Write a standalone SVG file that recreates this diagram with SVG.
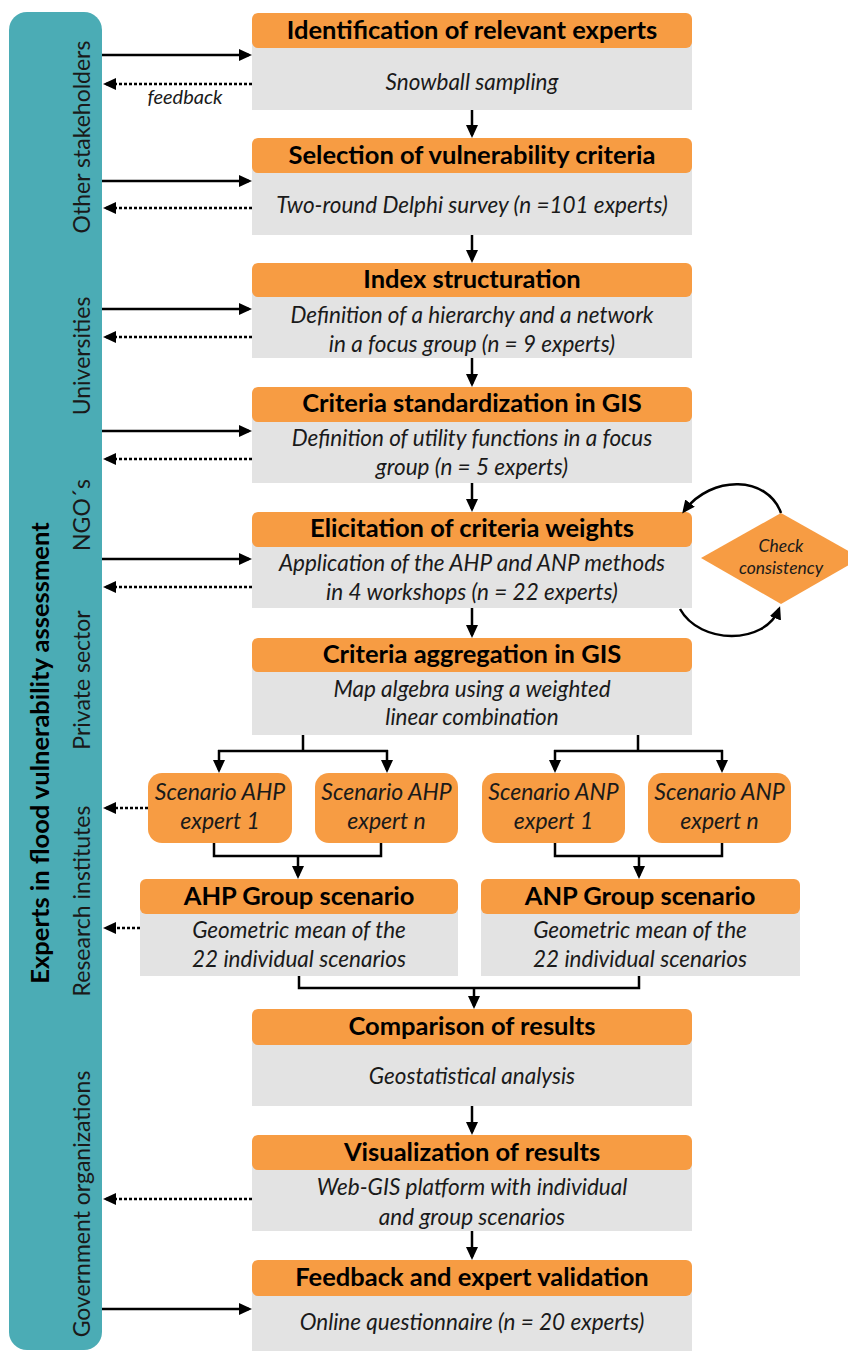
<svg xmlns="http://www.w3.org/2000/svg" width="848" height="1351" viewBox="0 0 848 1351">
<style>
.hd{fill:#F79C43}
.bd{fill:#E3E3E3}
.t{font-family:Lato,"Liberation Sans",sans-serif;font-weight:bold;font-size:25.5px;fill:#000;text-anchor:middle}
.b{font-family:Lato,"Liberation Sans",sans-serif;font-style:italic;font-size:22.5px;fill:#1a1a1a;text-anchor:middle}
.sc{font-family:Lato,"Liberation Sans",sans-serif;font-style:italic;font-size:23px;fill:#1a1a1a;text-anchor:middle}
.ck{font-family:Lato,"Liberation Sans",sans-serif;font-style:italic;font-size:17.5px;fill:#1a1a1a;text-anchor:middle}
.fb{font-family:Lato,"Liberation Sans",sans-serif;font-style:italic;font-size:20px;fill:#1a1a1a;text-anchor:middle}
.s{font-family:Lato,"Liberation Sans",sans-serif;font-size:23px;fill:#1a1a1a;text-anchor:middle}
.ln{fill:none;stroke:#000;stroke-width:2.5}
.ar{fill:none;stroke:#000;stroke-width:2.5;marker-end:url(#ah)}
.dt{fill:none;stroke:#000;stroke-width:2.5;stroke-dasharray:3 2;marker-end:url(#ah)}
</style>
<defs>
<marker id="ah" markerUnits="userSpaceOnUse" markerWidth="14" markerHeight="14" refX="10" refY="6" orient="auto">
<path d="M0,0 L13,6 L0,12 z" fill="#000"/>
</marker>
</defs>
<rect width="848" height="1351" fill="#fff"/>

<g id="sidebar">
<rect x="9" y="12" width="93" height="1338" rx="18" fill="#4BACB5"/>
<text class="t" transform="translate(49,753) rotate(-90)">Experts in flood vulnerability assessment</text>
<text class="s" transform="translate(90,137) rotate(-90)">Other stakeholders</text>
<text class="s" transform="translate(90,356) rotate(-90)">Universities</text>
<text class="s" transform="translate(90,515) rotate(-90)">NGO´s</text>
<text class="s" transform="translate(90,680) rotate(-90)">Private sector</text>
<text class="s" transform="translate(90,901) rotate(-90)">Research institutes</text>
<text class="s" transform="translate(90,1204) rotate(-90)">Government organizations</text>
</g>

<g id="n1">
<rect class="bd" x="252" y="40" width="440" height="70"/>
<rect class="hd" x="252" y="13" width="440" height="35" rx="6"/>
<text class="t" x="472" y="39">Identification of relevant experts</text>
<text class="b" x="472" y="90">Snowball sampling</text>
</g>
<g id="n2">
<rect class="bd" x="252" y="165" width="440" height="70"/>
<rect class="hd" x="252" y="138" width="440" height="35" rx="6"/>
<text class="t" x="472" y="164">Selection of vulnerability criteria</text>
<text class="b" x="472" y="213">Two-round Delphi survey (n =101 experts)</text>
</g>
<g id="n3">
<rect class="bd" x="252" y="289" width="440" height="69"/>
<rect class="hd" x="252" y="263" width="440" height="34" rx="6"/>
<text class="t" x="472" y="288">Index structuration</text>
<text class="b" x="472" y="323">Definition of a hierarchy and a network</text>
<text class="b" x="472" y="352">in a focus group (n = 9 experts)</text>
</g>
<g id="n4">
<rect class="bd" x="252" y="414" width="440" height="69"/>
<rect class="hd" x="252" y="387" width="440" height="35" rx="6"/>
<text class="t" x="472" y="412">Criteria standardization in GIS</text>
<text class="b" x="472" y="446">Definition of utility functions in a focus</text>
<text class="b" x="472" y="475">group (n = 5 experts)</text>
</g>
<g id="n5">
<rect class="bd" x="252" y="539" width="440" height="69"/>
<rect class="hd" x="252" y="512" width="440" height="35" rx="6"/>
<text class="t" x="472" y="537">Elicitation of criteria weights</text>
<text class="b" x="472" y="571">Application of the AHP and ANP methods</text>
<text class="b" x="472" y="600">in 4 workshops (n = 22 experts)</text>
</g>
<g id="n6">
<rect class="bd" x="252" y="664" width="440" height="71"/>
<rect class="hd" x="252" y="638" width="440" height="34" rx="6"/>
<text class="t" x="472" y="663">Criteria aggregation in GIS</text>
<text class="b" x="472" y="697">Map algebra using a weighted</text>
<text class="b" x="472" y="725">linear combination</text>
</g>
<g id="check">
<polygon points="701,558 781,513 861,558 781,604" fill="#F79C43"/>
<text class="ck" x="781" y="552">Check</text>
<text class="ck" x="781" y="574">consistency</text>
</g>
<g id="s1">
<rect class="hd" x="148" y="773" width="144" height="70" rx="14"/>
<text class="sc" x="220" y="800">Scenario AHP</text>
<text class="sc" x="220" y="829">expert 1</text>
</g>
<g id="s2">
<rect class="hd" x="315" y="773" width="143" height="70" rx="14"/>
<text class="sc" x="386.5" y="800">Scenario AHP</text>
<text class="sc" x="386.5" y="829">expert n</text>
</g>
<g id="s3">
<rect class="hd" x="482" y="773" width="143" height="70" rx="14"/>
<text class="sc" x="553.5" y="800">Scenario ANP</text>
<text class="sc" x="553.5" y="829">expert 1</text>
</g>
<g id="s4">
<rect class="hd" x="648" y="773" width="143" height="70" rx="14"/>
<text class="sc" x="719.5" y="800">Scenario ANP</text>
<text class="sc" x="719.5" y="829">expert n</text>
</g>
<g id="g1">
<rect class="bd" x="140" y="906" width="318" height="70"/>
<rect class="hd" x="140" y="879" width="318" height="35" rx="6"/>
<text class="t" x="299" y="905">AHP Group scenario</text>
<text class="b" x="299" y="938">Geometric mean of the</text>
<text class="b" x="299" y="967">22 individual scenarios</text>
</g>
<g id="g2">
<rect class="bd" x="481" y="906" width="319" height="70"/>
<rect class="hd" x="481" y="879" width="319" height="35" rx="6"/>
<text class="t" x="640" y="905">ANP Group scenario</text>
<text class="b" x="640" y="938">Geometric mean of the</text>
<text class="b" x="640" y="967">22 individual scenarios</text>
</g>
<g id="n7">
<rect class="bd" x="252" y="1037" width="440" height="69"/>
<rect class="hd" x="252" y="1009" width="440" height="36" rx="6"/>
<text class="t" x="472" y="1035">Comparison of results</text>
<text class="b" x="472" y="1084">Geostatistical analysis</text>
</g>
<g id="n8">
<rect class="bd" x="252" y="1162" width="440" height="69"/>
<rect class="hd" x="252" y="1135" width="440" height="35" rx="6"/>
<text class="t" x="472" y="1161">Visualization of results</text>
<text class="b" x="472" y="1195">Web-GIS platform with individual</text>
<text class="b" x="472" y="1225">and group scenarios</text>
</g>
<g id="n9">
<rect class="bd" x="252" y="1288" width="440" height="63"/>
<rect class="hd" x="252" y="1260" width="440" height="36" rx="6"/>
<text class="t" x="472" y="1286">Feedback and expert validation</text>
<text class="b" x="472" y="1330">Online questionnaire (n = 20 experts)</text>
</g>

<g id="connectors">
<path class="ar" d="M102,55 H249"/>
<path class="ar" d="M102,181 H249"/>
<path class="ar" d="M102,309 H249"/>
<path class="ar" d="M102,431 H249"/>
<path class="ar" d="M102,559 H249"/>
<path class="ar" d="M102,1309 H249"/>
<path class="dt" d="M252,84 H106"/>
<path class="dt" d="M252,208 H106"/>
<path class="dt" d="M252,337 H106"/>
<path class="dt" d="M252,459 H106"/>
<path class="dt" d="M252,587 H106"/>
<path class="dt" d="M252,1199 H106"/>
<path class="dt" d="M148,808 H106"/>
<path class="dt" d="M140,928 H106"/>
<text class="fb" x="185" y="104">feedback</text>
<path class="ar" d="M472,110 V135"/>
<path class="ar" d="M472,235 V260"/>
<path class="ar" d="M472,358 V384"/>
<path class="ar" d="M472,483 V509"/>
<path class="ar" d="M472,608 V635"/>
<path class="ar" d="M472,1106 V1132"/>
<path class="ar" d="M472,1231 V1257"/>
<path class="ln" d="M303,735 V751 M218,751 H388"/>
<path class="ar" d="M219,750 V770"/>
<path class="ar" d="M387,750 V770"/>
<path class="ln" d="M638,735 V751 M554,751 H723"/>
<path class="ar" d="M555,750 V770"/>
<path class="ar" d="M722,750 V770"/>
<path class="ln" d="M214,843 V856 H381 V843"/>
<path class="ar" d="M298,855 V876"/>
<path class="ln" d="M555,843 V856 H722 V843"/>
<path class="ar" d="M639,855 V876"/>
<path class="ln" d="M299,976 V988 H639 V976"/>
<path class="ar" d="M474,987 V1006"/>
<path class="ar" d="M781,513 C768,476 712,474 684,511"/>
<path class="ar" d="M680,609 C700,645 765,645 779,609"/>
</g>
</svg>
